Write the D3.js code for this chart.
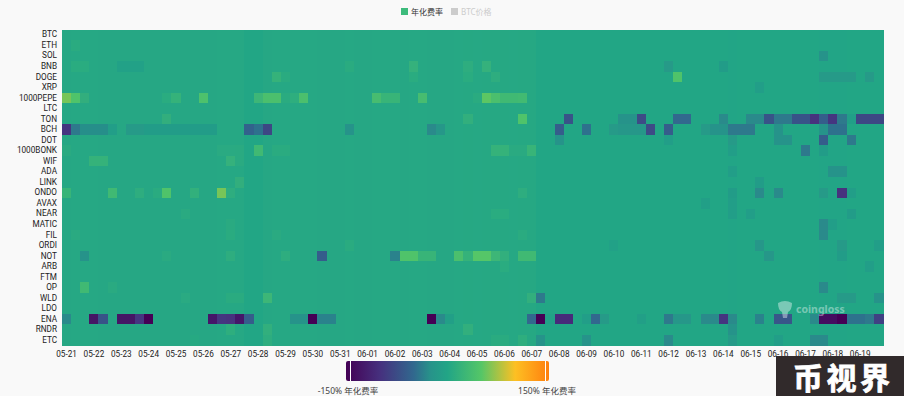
<!DOCTYPE html>
<html>
<head>
<meta charset="utf-8">
<script src="https://cdn.jsdelivr.net/npm/d3@7"></script>
<style>
html, body { margin: 0; padding: 0; background: #f9f9f9; }
svg { display: block; }
text { font-family: "Noto Sans", "Noto Sans CJK SC", sans-serif; }
</style>
</head>
<body>
<svg id="chart"></svg>
<script>
const width = 904;
const height = 396;

const coins = ["BTC", "ETH", "SOL", "BNB", "DOGE", "XRP", "1000PEPE", "LTC", "TON", "BCH", "DOT", "1000BONK", "WIF", "ADA", "LINK", "ONDO", "AVAX", "NEAR", "MATIC", "FIL", "ORDI", "NOT", "ARB", "FTM", "OP", "WLD", "LDO", "ENA", "RNDR", "ETC"];
const dayLabels = ["05-21", "05-22", "05-23", "05-24", "05-25", "05-26", "05-27", "05-28", "05-29", "05-30", "05-31", "06-01", "06-02", "06-03", "06-04", "06-05", "06-06", "06-07", "06-08", "06-09", "06-10", "06-11", "06-12", "06-13", "06-14", "06-15", "06-16", "06-17", "06-18", "06-19"];
const periodsPerDay = 3;

// Rate of the quiet cells, read per column. Listed cells below override it.
const quietRate = [3, 4, 4, 4, 3, 3, 3, 3, 3, 3, 3, 3, 3, 3, 3, 3, 3, 4, 4, 4, 2, 2, 3, 4, 4, 4, 4, 4, 3, 3, 3, 4, 3, 3, 4, 4, 4, 3, 4, 4, 3, 3, 3, 4, 5, 4, 5, 5, 5, 4, 5, 5, 1, 1, 1, 1, 1, 1, 1, 1, 1, 1, 1, 1, 1, 1, 1, 1, 1, 1, 1, 1, 1, 0, 1, 1, 1, 1, 1, 1, 1, 1, 1, 0, 0, 0, 1, 1, 1, 1];

// [period index, annualized rate %] for the cells that stand out
const cellsBTC = [];
const cellsETH = [[1, 9]];
const cellsSOL = [[83, -25]];
const cellsBNB = [[1, 10], [2, 10], [6, -6], [7, -6], [8, -6], [31, 9], [38, 18], [44, 12], [46, 18], [66, -15], [72, -12]];
const cellsDOGE = [[23, 20], [24, 9], [38, 10], [44, 10], [47, 12], [67, 45], [83, -15], [84, -15], [85, -15], [86, -15], [88, -15]];
const cellsXRP = [[76, -10]];
const cells1000PEPE = [[0, 60], [1, 45], [2, 14], [11, 10], [12, 20], [15, 42], [21, 25], [22, 40], [23, 40], [24, 9], [25, 13], [26, 40], [34, 35], [35, 22], [36, 22], [39, 35], [45, 9], [46, 52], [47, 40], [48, 30], [49, 30], [50, 32]];
const cellsLTC = [];
const cellsTON = [[11, 14], [44, 15], [50, 45], [55, -70], [61, -25], [62, -25], [63, -75], [67, -50], [68, -50], [72, -30], [75, -30], [76, -30], [77, -70], [78, -40], [79, -40], [80, -70], [81, -70], [82, -100], [83, -60], [84, -95], [85, -40], [86, -10], [87, -80], [88, -80], [89, -80]];
const cellsBCH = [[0, -95], [1, -40], [2, -28], [3, -28], [4, -28], [5, -10], [7, -15], [8, -15], [9, -12], [10, -12], [11, -12], [12, -12], [13, -12], [14, -12], [15, -12], [16, -12], [20, -55], [21, -45], [22, -80], [31, -25], [40, -30], [41, -20], [54, -60], [57, -45], [60, -15], [61, -20], [62, -20], [63, -20], [64, -75], [66, -60], [70, -15], [71, -25], [72, -25], [73, -40], [74, -40], [75, -40], [78, -25], [83, -25], [84, -45], [85, -45]];
const cellsDOT = [[54, -25], [66, -10], [73, -15], [78, -25], [79, -25], [83, -60], [86, -40]];
const cells1000BONK = [[0, 8], [17, 7], [18, 7], [19, 8], [21, 30], [23, 9], [24, 9], [47, 20], [48, 20], [49, 8], [50, 8], [51, 22], [73, -10], [81, -40], [83, -12]];
const cellsWIF = [[3, 20], [4, 20], [18, 18], [19, 8]];
const cellsADA = [[73, -10], [84, -25], [85, -25]];
const cellsLINK = [[19, 14], [76, -12]];
const cellsONDO = [[0, 22], [5, 30], [8, 12], [10, 9], [11, 45], [14, 16], [17, 60], [18, 12], [50, 12], [73, -12], [76, -30], [78, -30], [83, -15], [85, -100], [86, -10]];
const cellsAVAX = [[70, -8], [73, -10]];
const cellsNEAR = [[13, 8], [47, 10], [48, 10], [73, -10], [75, -10], [86, -12]];
const cellsMATIC = [[18, 8], [83, -30], [84, -10]];
const cellsFIL = [[1, 8], [18, 9], [23, 8], [50, 9], [83, -30]];
const cellsORDI = [[31, 9], [60, -5], [76, -20], [85, -15], [89, -10]];
const cellsNOT = [[2, -25], [11, 8], [18, 12], [24, 12], [28, -60], [36, -35], [37, 45], [38, 45], [39, 22], [40, 22], [43, 40], [44, 20], [45, 50], [46, 50], [47, 25], [48, 15], [50, 30], [51, 30], [77, -20], [85, -12]];
const cellsARB = [[48, 10], [88, -10]];
const cellsFTM = [];
const cellsOP = [[2, 30], [5, 8], [83, -30]];
const cellsWLD = [[13, 7], [18, 9], [19, 9], [22, 25], [51, 15], [52, -40], [85, -15], [86, -15], [89, -25]];
const cellsLDO = [];
const cellsENA = [[0, -30], [3, -130], [4, -70], [6, -130], [7, -130], [8, -95], [9, -150], [16, -125], [17, -95], [18, -100], [19, -125], [20, -60], [25, -25], [26, -25], [27, -150], [28, -35], [29, -35], [40, -150], [41, -30], [42, -8], [51, -50], [52, -150], [53, -5], [54, -105], [55, -105], [57, -10], [58, -50], [59, -15], [63, -8], [66, -40], [67, -20], [68, -20], [70, -30], [71, -30], [72, -95], [73, -30], [76, -35], [78, -65], [79, -65], [82, -30], [83, -135], [84, -135], [85, -150], [86, -45], [87, -45], [88, -40], [89, -85]];
const cellsRNDR = [[18, 13], [22, 15], [44, 15], [73, -25]];
const cellsETC = [[14, 6], [22, 12], [47, 9], [48, 9], [50, 13], [52, -25], [57, -25], [66, -30], [73, -15], [78, -10], [82, -30], [83, -30]];

const coinCells = [cellsBTC, cellsETH, cellsSOL, cellsBNB, cellsDOGE, cellsXRP, cells1000PEPE, cellsLTC, cellsTON, cellsBCH, cellsDOT, cells1000BONK, cellsWIF, cellsADA, cellsLINK, cellsONDO, cellsAVAX, cellsNEAR, cellsMATIC, cellsFIL, cellsORDI, cellsNOT, cellsARB, cellsFTM, cellsOP, cellsWLD, cellsLDO, cellsENA, cellsRNDR, cellsETC];

const colorStops = [-150, -100, -50, -25, 0, 50, 100, 150];
const colorRange = ["#440154", "#46307e", "#31688e", "#27938a", "#22a586", "#55c667", "#fdc023", "#ff7f0e"];

const margin = { top: 29.5, right: 21, bottom: 50.5, left: 62 };

const svg = d3.select("#chart")
    .attr("width", width)
    .attr("height", height)
    .attr("viewBox", `0 0 ${width} ${height}`);

const defs = svg.append("defs");

// The reference is a soft screenshot, so the cells get a slight blur
defs.append("filter")
    .attr("id", "soften")
    .attr("x", "-1%").attr("y", "-1%").attr("width", "102%").attr("height", "102%")
    .append("feGaussianBlur")
    .attr("stdDeviation", 0.6);

const periods = d3.range(dayLabels.length * periodsPerDay);

const x = d3.scaleBand()
    .domain(periods)
    .range([margin.left, width - margin.right]);

const y = d3.scaleBand()
    .domain(coins)
    .range([margin.top, height - margin.bottom]);

const color = d3.scaleLinear()
    .domain(colorStops)
    .range(colorRange)
    .clamp(true);

// Expand the quiet rates and the listed cells to one record per cell
const cells = [];
coins.forEach((coin, i) => {
    const listed = new Map(coinCells[i]);
    periods.forEach(p => {
        cells.push({ coin: coin, period: p, rate: listed.has(p) ? listed.get(p) : quietRate[p] });
    });
});

svg.append("g")
    .attr("filter", "url(#soften)")
    .attr("shape-rendering", "crispEdges")
    .selectAll("rect")
    .data(cells)
    .enter()
    .append("rect")
    .attr("x", d => x(d.period))
    .attr("y", d => y(d.coin))
    .attr("width", x.bandwidth() + 0.5)
    .attr("height", y.bandwidth() + 0.5)
    .attr("fill", d => color(d.rate));

// Axes
const yAxis = svg.append("g")
    .attr("transform", `translate(${margin.left},0)`)
    .call(d3.axisLeft(y).tickSize(0).tickPadding(5));

const xAxis = svg.append("g")
    .attr("transform", `translate(0,${height - margin.bottom})`)
    .call(d3.axisBottom(x)
        .tickValues(periods.filter(p => p % periodsPerDay === 0))
        .tickFormat(p => dayLabels[p / periodsPerDay])
        .tickSize(0)
        .tickPadding(6));

[yAxis, xAxis].forEach(axis => {
    axis.select(".domain").remove();
    axis.selectAll("text")
        .attr("fill", "#222")
        .attr("font-size", 8.2)
        .style("font-family", "Roboto, sans-serif");
});

// Legend on top
const legend = svg.append("g");
legend.append("rect").attr("x", 401).attr("y", 8).attr("width", 7).attr("height", 7).attr("fill", "#3dbb7c");
legend.append("text").attr("x", 411).attr("y", 14.5).attr("font-size", 8).attr("fill", "#333").text("年化费率");
legend.append("rect").attr("x", 451).attr("y", 8).attr("width", 7).attr("height", 7).attr("fill", "#ccc");
legend.append("text").attr("x", 461).attr("y", 14.5).attr("font-size", 8).attr("fill", "#ccc").text("BTC价格");

// Color bar
const gradient = defs.append("linearGradient").attr("id", "rateGradient");
colorStops.forEach((s, i) => {
    gradient.append("stop")
        .attr("offset", `${(s - colorStops[0]) / 300 * 100}%`)
        .attr("stop-color", colorRange[i]);
});

svg.append("rect")
    .attr("x", 346)
    .attr("y", 361)
    .attr("width", 203)
    .attr("height", 20)
    .attr("rx", 2)
    .attr("fill", "url(#rateGradient)");

[350, 545].forEach(hx => {
    svg.append("rect")
        .attr("x", hx)
        .attr("y", 361)
        .attr("width", 1)
        .attr("height", 20)
        .attr("fill", "#fff");
});

svg.append("text").attr("x", 348).attr("y", 394).attr("text-anchor", "middle").attr("font-size", 8.5).attr("fill", "#444").text("-150% 年化费率");
svg.append("text").attr("x", 547).attr("y", 394).attr("text-anchor", "middle").attr("font-size", 8.5).attr("fill", "#444").text("150% 年化费率");

// Watermark
const mark = svg.append("g").attr("fill", "#fff").attr("fill-opacity", 0.4);
mark.append("path").attr("d", "M778 303 Q785 299 792 303 Q792 310 788 312 L787 318 L783 318 L782 312 Q778 310 778 303 Z");
mark.append("text").attr("x", 796).attr("y", 313).attr("font-size", 10.5).attr("font-weight", 700).text("coingloss");

// Badge in the corner
svg.append("rect").attr("x", 776).attr("y", 356).attr("width", 128).attr("height", 40).attr("fill", "#312a2b");
svg.append("text")
    .attr("x", 793)
    .attr("y", 388.5)
    .attr("font-size", 30)
    .attr("font-weight", 700)
    .attr("letter-spacing", 3.5)
    .attr("fill", "#fff")
    .attr("stroke", "#fff")
    .attr("stroke-width", 0.8)
    .style("font-family", "'Noto Sans CJK SC'")
    .text("币视界");
</script>
</body>
</html>
